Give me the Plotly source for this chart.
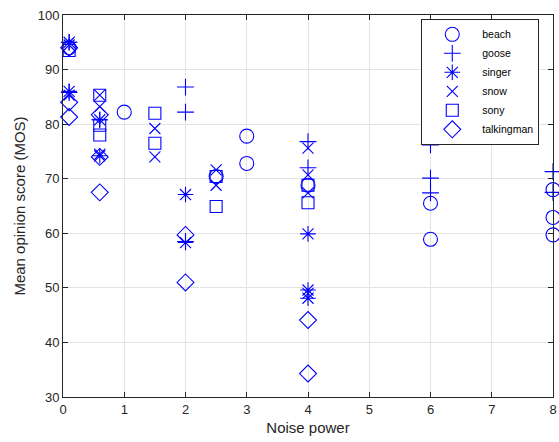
import plotly.graph_objects as go

names = ["beach", "goose", "singer", "snow", "sony", "talkingman"]
symbols = ["circle-open", "cross-thin-open", "asterisk-open", "x-thin-open", "square-open", "diamond-open"]

beach_x = [0.1, 1, 2.5, 3, 3, 4, 6, 6, 8, 8, 8]
beach_y = [94, 82.2, 70.4, 77.8, 72.8, 68.8, 65.5, 58.9, 68, 62.9, 59.7]

goose_x = [0.1, 0.1, 0.6, 2, 2, 2, 4, 4, 6, 6, 6, 8, 8]
goose_y = [95, 85.8, 80.8, 86.8, 82.2, 58.5, 76.8, 72, 76.2, 70.1, 67.4, 71.3, 67.5]

singer_x = [0.1, 0.1, 0.6, 0.6, 2, 2, 4, 4, 4]
singer_y = [95, 86, 80.8, 74.2, 67.1, 58.3, 59.9, 49.6, 48.1]

snow_x = [0.1, 0.1, 0.6, 0.6, 0.6, 1.5, 1.5, 2.5, 2.5, 4, 4, 4, 4]
snow_y = [94.5, 85.3, 85.3, 83.2, 74.5, 79.2, 74, 71.6, 68.8, 75.6, 70.7, 67.4, 49]

sony_x = [0.1, 0.6, 0.6, 0.6, 1.5, 1.5, 2.5, 2.5, 4, 4]
sony_y = [93.5, 85.3, 79.8, 78, 82, 76.5, 70.4, 64.9, 68.8, 65.6]

talk_x = [0.1, 0.1, 0.1, 0.6, 0.6, 0.6, 2, 2, 4, 4]
talk_y = [94, 84, 81.3, 81.7, 74, 67.5, 59.7, 51, 44.1, 34.3]

xs = [beach_x, goose_x, singer_x, snow_x, sony_x, talk_x]
ys = [beach_y, goose_y, singer_y, snow_y, sony_y, talk_y]
sizes = [14, 12, 13, 11, 12, 13]

fig = go.Figure()
for n, s, x, y, sz in zip(names, symbols, xs, ys, sizes):
    fig.add_trace(go.Scatter(
        x=x, y=y, mode="markers", name=n, cliponaxis=False,
        marker=dict(symbol=s, size=sz, color="#0000ff",
                    line=dict(color="#0000ff", width=1.1)),
    ))

axis_common = dict(
    showline=True, linecolor="#262626", linewidth=1, mirror="ticks",
    ticks="inside", ticklen=5, tickcolor="#262626",
    showgrid=True, gridcolor="#e3e3e3", gridwidth=1, zeroline=False,
    ticklabeloverflow="allow",
    tickfont=dict(family="Liberation Sans, Arial", size=13, color="#262626"),
)

fig.update_layout(
    width=559, height=442,
    margin=dict(l=63, r=2, t=15, b=45),
    paper_bgcolor="white", plot_bgcolor="white",
    font=dict(family="Liberation Sans, Arial", color="#262626"),
    xaxis=dict(range=[0, 8], dtick=1,
               title=dict(text="Noise power", font=dict(size=15), standoff=6),
               **axis_common),
    yaxis=dict(range=[30, 100], dtick=10,
               title=dict(text="Mean opinion score (MOS)", font=dict(size=15), standoff=8),
               **axis_common),
    legend=dict(x=0.972, y=0.99, xanchor="right", yanchor="top",
                bgcolor="white", bordercolor="#262626", borderwidth=1,
                font=dict(size=10.5, color="#000000"),
                tracegroupgap=0, itemwidth=50),
    showlegend=True,
)

fig.write_html("out.html")
